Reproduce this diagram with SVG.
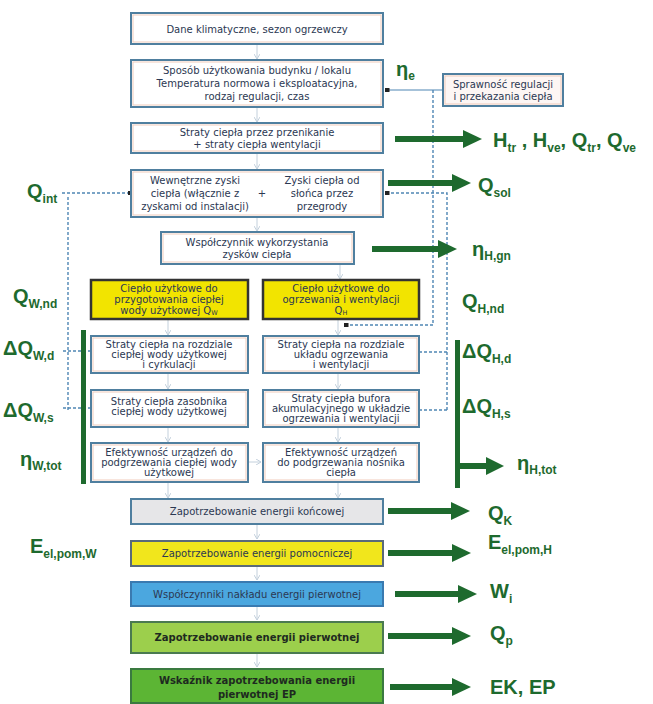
<svg xmlns="http://www.w3.org/2000/svg" width="653" height="704" viewBox="0 0 653 704">
<defs>
<style>
.bx{fill:#fff;stroke:#4f7f9f;stroke-width:2}
.in{fill:none;stroke:#f0cbbb;stroke-width:1}
.t{font-family:"DejaVu Sans","Liberation Sans",Arial,sans-serif;fill:#2b3852;text-anchor:middle;font-size:10px}
.lb{font-family:"Liberation Sans",Arial,sans-serif;font-weight:bold;fill:#1e6a2e;font-size:20px}
.s{font-size:12px}
.ga{stroke:#1e6a2e;stroke-width:6;fill:none}
.gh{fill:#1e6a2e}
.dl{stroke:#4f86b4;stroke-width:1.4;stroke-dasharray:3 2;fill:none}
.fc{stroke:#c3d0dc;stroke-width:1;fill:none;marker-end:url(#fa)}
.sl{stroke:#4f86b4;stroke-width:1.2;fill:none}
</style>
<marker id="fa" markerWidth="6" markerHeight="6" refX="5" refY="3" orient="auto" markerUnits="userSpaceOnUse"><path d="M0,0 L5,3 L0,6" fill="none" stroke="#c3d0dc"/></marker>
<marker id="dot" markerWidth="5" markerHeight="5" refX="2.5" refY="2.5" markerUnits="userSpaceOnUse"><rect x="0" y="0.5" width="5" height="4" fill="#222"/></marker>
</defs>
<rect width="653" height="704" fill="#fff"/>

<g id="connectors">
  <line class="fc" x1="257" y1="45" x2="257" y2="59"/>
  <line class="fc" x1="257" y1="108" x2="257" y2="122"/>
  <line class="fc" x1="257" y1="154" x2="257" y2="169"/>
  <line class="fc" x1="257" y1="218" x2="257" y2="231"/>
  <line class="fc" x1="340" y1="265" x2="340" y2="279"/>
  <line class="fc" x1="168" y1="319" x2="168" y2="335"/>
  <line class="fc" x1="168" y1="374" x2="168" y2="389"/>
  <line class="fc" x1="168" y1="428" x2="168" y2="442"/>
  <line class="fc" x1="338" y1="319" x2="338" y2="335"/>
  <line class="fc" x1="338" y1="374" x2="338" y2="389"/>
  <line class="fc" x1="338" y1="428" x2="338" y2="442"/>
  <line class="fc" x1="249" y1="462" x2="261" y2="462"/>
  <line class="fc" x1="168" y1="483" x2="168" y2="498"/>
  <line class="fc" x1="338" y1="483" x2="338" y2="498"/>
  <line class="fc" x1="257" y1="525" x2="257" y2="539"/>
  <line class="fc" x1="257" y1="567" x2="257" y2="580"/>
  <line class="fc" x1="257" y1="607" x2="257" y2="620"/>
  <line class="fc" x1="257" y1="654" x2="257" y2="667"/>

  <line class="sl" x1="443" y1="90" x2="387" y2="90" marker-end="url(#dot)"/>
  <path class="dl" d="M433,90 V325 H346" marker-end="url(#dot)"/>
  <path class="dl" d="M62,193 H130" marker-end="url(#dot)"/>
  <path class="dl" d="M68,197 V410"/>
  <path class="dl" d="M63,351 H90"/>
  <path class="dl" d="M63,408 H90"/>
  <path class="dl" d="M447,410 V193 H387" marker-end="url(#dot)"/>
  <path class="dl" d="M419,352 H447"/>
  <path class="dl" d="M419,410 H447"/>

  <rect x="81" y="330" width="5" height="154" class="gh"/>
  <rect x="455" y="340" width="5" height="148" class="gh"/>

  <line class="ga" x1="395" y1="139" x2="466" y2="139"/><polygon class="gh" points="463,130 482,139 463,148"/>
  <line class="ga" x1="388" y1="183" x2="455" y2="183"/><polygon class="gh" points="452,174 471,183 452,192"/>
  <line class="ga" x1="372" y1="249" x2="441" y2="249"/><polygon class="gh" points="438,240 457,249 438,258"/>
  <line class="ga" x1="457" y1="466" x2="489" y2="466"/><polygon class="gh" points="486,457 504,466 486,475"/>
  <line class="ga" x1="388" y1="511" x2="454" y2="511"/><polygon class="gh" points="451,502 470,511 451,520"/>
  <line class="ga" x1="388" y1="553" x2="455" y2="553"/><polygon class="gh" points="452,544 471,553 452,562"/>
  <line class="ga" x1="395" y1="594" x2="461" y2="594"/><polygon class="gh" points="458,585 477,594 458,603"/>
  <line class="ga" x1="388" y1="636" x2="455" y2="636"/><polygon class="gh" points="452,627 471,636 452,645"/>
  <line class="ga" x1="390" y1="687" x2="455" y2="687"/><polygon class="gh" points="452,678 471,687 452,696"/>
</g>

<g id="n1"><rect class="bx" x="131" y="13" width="252" height="31"/><rect class="in" x="133" y="15" width="248" height="27"/>
<text class="t" x="257" y="33" font-size="11">Dane klimatyczne, sezon ogrzewczy</text></g>

<g id="n2"><rect class="bx" x="131" y="60" width="252" height="47"/><rect class="in" x="133" y="62" width="248" height="43"/>
<text class="t" x="257" y="74" font-size="10.8">Sposób użytkowania budynku / lokalu</text>
<text class="t" x="257" y="87" font-size="10.8">Temperatura normowa i eksploatacyjna,</text>
<text class="t" x="257" y="100" font-size="10.8">rodzaj regulacji, czas</text></g>

<g id="n_spr"><rect class="bx" x="443" y="74" width="120" height="32" style="fill:#fdf6f4"/><rect class="in" x="445" y="76" width="116" height="28"/>
<text class="t" x="503" y="88" font-size="8.8">Sprawność regulacji</text>
<text class="t" x="503" y="100" font-size="8.8">i przekazania ciepła</text></g>

<g id="n3"><rect class="bx" x="131" y="123" width="252" height="30"/><rect class="in" x="133" y="125" width="248" height="26"/>
<text class="t" x="257" y="136" font-size="10">Straty ciepła przez przenikanie</text>
<text class="t" x="257" y="148" font-size="10">+ straty ciepła wentylacji</text></g>

<g id="n4"><rect class="bx" x="131" y="170" width="252" height="47"/><rect class="in" x="133" y="172" width="248" height="43"/>
<text class="t" x="195" y="184" font-size="9.6">Wewnętrzne zyski</text>
<text class="t" x="195" y="197" font-size="9.6">ciepła (włącznie z</text>
<text class="t" x="195" y="210" font-size="9.6">zyskami od instalacji)</text>
<text class="t" x="262" y="197" font-size="12">+</text>
<text class="t" x="322" y="184" font-size="9.6">Zyski ciepła od</text>
<text class="t" x="322" y="197" font-size="9.6">słońca przez</text>
<text class="t" x="322" y="210" font-size="9.6">przegrody</text></g>

<g id="n5"><rect class="bx" x="161" y="232" width="193" height="32"/><rect class="in" x="163" y="234" width="189" height="28"/>
<text class="t" x="257" y="246" font-size="10">Współczynnik wykorzystania</text>
<text class="t" x="257" y="258" font-size="10">zysków ciepła</text></g>

<g id="n_qw"><rect x="91" y="280" width="157" height="39" fill="#f2e400" stroke="#333" stroke-width="2.5"/>
<text class="t" x="169" y="292" font-size="8.2">Ciepło użytkowe do</text>
<text class="t" x="169" y="303" font-size="8.2">przygotowania ciepłej</text>
<text class="t" x="169" y="314" font-size="8.2">wody użytkowej Q<tspan font-size="6.5" dy="1">W</tspan></text></g>

<g id="n_qh"><rect x="263" y="280" width="156" height="39" fill="#f2e400" stroke="#333" stroke-width="2.5"/>
<text class="t" x="341" y="292" font-size="8.2">Ciepło użytkowe do</text>
<text class="t" x="341" y="303" font-size="8.2">ogrzewania i wentylacji</text>
<text class="t" x="341" y="314" font-size="8.2">Q<tspan font-size="6.5" dy="1">H</tspan></text></g>

<g id="n_wd"><rect class="bx" x="91" y="336" width="157" height="37"/><rect class="in" x="93" y="338" width="153" height="33"/>
<text class="t" x="169" y="348" font-size="8.2">Straty ciepła na rozdziale</text>
<text class="t" x="169" y="358" font-size="8.2">ciepłej wody użytkowej</text>
<text class="t" x="169" y="368" font-size="8.2">i cyrkulacji</text></g>

<g id="n_hd"><rect class="bx" x="263" y="336" width="156" height="37"/><rect class="in" x="265" y="338" width="152" height="33"/>
<text class="t" x="341" y="348" font-size="8.2">Straty ciepła na rozdziale</text>
<text class="t" x="341" y="358" font-size="8.2">układu ogrzewania</text>
<text class="t" x="341" y="368" font-size="8.2">i wentylacji</text></g>

<g id="n_ws"><rect class="bx" x="91" y="390" width="157" height="37"/><rect class="in" x="93" y="392" width="153" height="33"/>
<text class="t" x="169" y="405" font-size="8.2">Straty ciepła zasobnika</text>
<text class="t" x="169" y="415" font-size="8.2">ciepłej wody użytkowej</text></g>

<g id="n_hs"><rect class="bx" x="263" y="390" width="156" height="37"/><rect class="in" x="265" y="392" width="152" height="33"/>
<text class="t" x="341" y="402" font-size="8.2">Straty ciepła bufora</text>
<text class="t" x="341" y="412" font-size="8.2">akumulacyjnego w układzie</text>
<text class="t" x="341" y="422" font-size="8.2">ogrzewania i wentylacji</text></g>

<g id="n_wt"><rect class="bx" x="91" y="443" width="157" height="39"/><rect class="in" x="93" y="445" width="153" height="35"/>
<text class="t" x="169" y="456" font-size="8.2">Efektywność urządzeń do</text>
<text class="t" x="169" y="466" font-size="8.2">podgrzewania ciepłej wody</text>
<text class="t" x="169" y="476" font-size="8.2">użytkowej</text></g>

<g id="n_ht"><rect class="bx" x="263" y="443" width="156" height="39"/><rect class="in" x="265" y="445" width="152" height="35"/>
<text class="t" x="341" y="456" font-size="8.2">Efektywność urządzeń</text>
<text class="t" x="341" y="466" font-size="8.2">do podgrzewania nośnika</text>
<text class="t" x="341" y="476" font-size="8.2">ciepła</text></g>

<g id="n_k"><rect x="131" y="499" width="252" height="25" fill="#e6e6e8" stroke="#4f7f9f" stroke-width="2"/>
<text class="t" x="257" y="515" font-size="10">Zapotrzebowanie energii końcowej</text></g>

<g id="n_pom"><rect x="131" y="541" width="252" height="25" fill="#f1e61c" stroke="#5a6a7a" stroke-width="2"/>
<text class="t" x="257" y="557" font-size="10">Zapotrzebowanie energii pomocniczej</text></g>

<g id="n_wi"><rect x="131" y="582" width="252" height="24" fill="#4ba7df" stroke="#3a7ab0" stroke-width="2"/>
<text class="t" x="257" y="598" font-size="10">Współczynniki nakładu energii pierwotnej</text></g>

<g id="n_qp"><rect x="131" y="622" width="252" height="31" fill="#9ccf4c" stroke="#4a7a50" stroke-width="2"/>
<text class="t" x="257" y="641" font-size="10.2" font-weight="bold" style="fill:#1e2a20">Zapotrzebowanie energii pierwotnej</text></g>

<g id="n_ep"><rect x="131" y="669" width="252" height="34" fill="#5cb534" stroke="#3a7a40" stroke-width="2"/>
<text class="t" x="257" y="684" font-size="10.2" font-weight="bold" style="fill:#1e2a20">Wskaźnik zapotrzebowania energii</text>
<text class="t" x="257" y="698" font-size="10.2" font-weight="bold" style="fill:#1e2a20">pierwotnej EP</text></g>

<g id="labels">
<text class="lb" x="396" y="76">η<tspan class="s" dy="4">e</tspan></text>
<text class="lb" x="493" y="147">H<tspan class="s" dy="5">tr</tspan><tspan dy="-5"> , H</tspan><tspan class="s" dy="5">ve</tspan><tspan dy="-5">, Q</tspan><tspan class="s" dy="5">tr</tspan><tspan dy="-5">, Q</tspan><tspan class="s" dy="5">ve</tspan></text>
<text class="lb" x="478" y="192">Q<tspan class="s" dy="5">sol</tspan></text>
<text class="lb" x="472" y="256">η<tspan class="s" dy="4">H,gn</tspan></text>
<text class="lb" x="27" y="198">Q<tspan class="s" dy="5">int</tspan></text>
<text class="lb" x="13" y="303">Q<tspan class="s" dy="5">W,nd</tspan></text>
<text class="lb" x="3" y="355">ΔQ<tspan class="s" dy="5">W,d</tspan></text>
<text class="lb" x="3" y="417">ΔQ<tspan class="s" dy="5">W,s</tspan></text>
<text class="lb" x="20" y="466">η<tspan class="s" dy="4">W,tot</tspan></text>
<text class="lb" x="462" y="308">Q<tspan class="s" dy="5">H,nd</tspan></text>
<text class="lb" x="462" y="358">ΔQ<tspan class="s" dy="5">H,d</tspan></text>
<text class="lb" x="462" y="413">ΔQ<tspan class="s" dy="5">H,s</tspan></text>
<text class="lb" x="517" y="470">η<tspan class="s" dy="4">H,tot</tspan></text>
<text class="lb" x="488" y="520">Q<tspan class="s" dy="5">K</tspan></text>
<text class="lb" x="488" y="549">E<tspan class="s" dy="5">el,pom,H</tspan></text>
<text class="lb" x="30" y="553">E<tspan class="s" dy="5">el,pom,W</tspan></text>
<text class="lb" x="490" y="598">W<tspan class="s" dy="5">i</tspan></text>
<text class="lb" x="490" y="640">Q<tspan class="s" dy="5">p</tspan></text>
<text class="lb" x="490" y="694">EK, EP</text>
</g>
</svg>
